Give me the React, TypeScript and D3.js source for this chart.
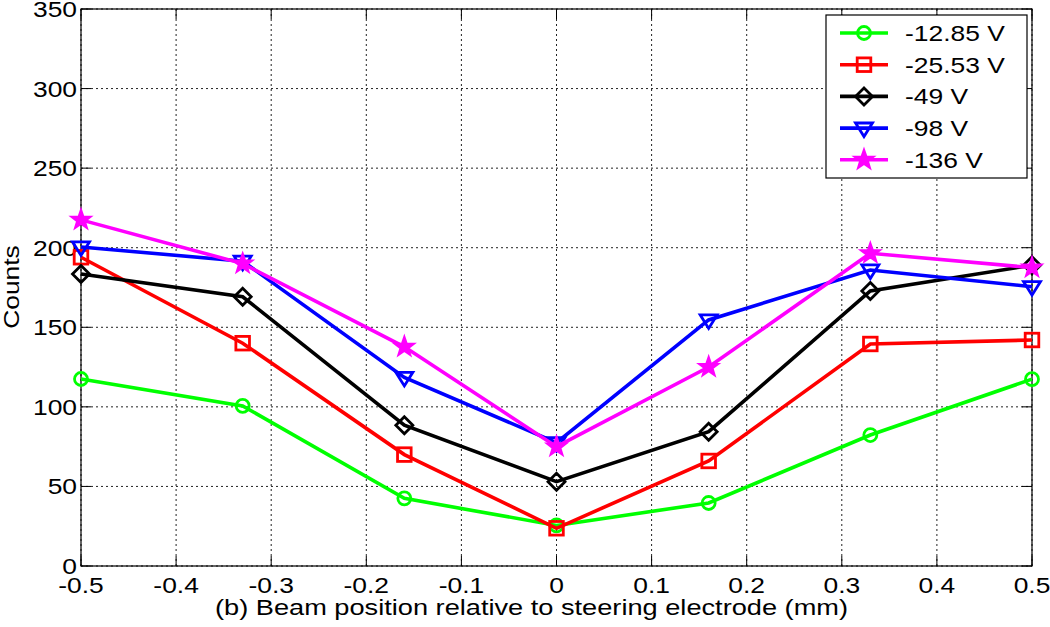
import React from "react";
import * as d3 from "d3";

const xPositions = [-0.5, -0.33, -0.16, 0, 0.16, 0.33, 0.5];
const seriesNames = ["-12.85 V", "-25.53 V", "-49 V", "-98 V", "-136 V"];
const seriesColors = ["#00ff00", "#ff0000", "#000000", "#0000ff", "#ff00ff"];
const seriesMarkers = ["circle", "square", "diamond", "triangleDown", "star"];
const green = [117.5, 100.6, 42.5, 25.5, 39.6, 82.3, 117.4];
const red = [194, 140, 70, 23.7, 66, 139.5, 142];
const black = [183.5, 169.2, 88.5, 53, 84.4, 172.8, 189];
const blue = [200.5, 191.5, 118.5, 77.5, 154.6, 186, 175.5];
const magenta = [217.5, 190, 137.7, 75, 125, 196.5, 187.5];
const seriesValues = [green, red, black, blue, magenta];
const xTicks = [-0.5, -0.4, -0.3, -0.2, -0.1, 0, 0.1, 0.2, 0.3, 0.4, 0.5];
const yTicks = [0, 50, 100, 150, 200, 250, 300, 350];
const xLabel = "(b) Beam position relative to steering electrode (mm)";
const yLabel = "Counts";

const W = 1050;
const H = 627;
const L = 81, R = 1032, T = 9, B = 566;
const FONT = "'Liberation Sans', Arial, Helvetica, sans-serif";
const FS = 22;
const SX = 1.2;

function Txt({ x, y, anchor = "start", children, rotate = 0 }: any) {
  return (
    <text
      transform={`translate(${x},${y}) rotate(${rotate}) scale(${SX},1)`}
      textAnchor={anchor}
      fontFamily={FONT}
      fontSize={FS}
      fill="#000"
    >
      {children}
    </text>
  );
}

function Marker({ type, x, y, color }: { type: string; x: number; y: number; color: string }) {
  const sw = 2.8;
  if (type === "circle") return <circle cx={x} cy={y} r={6.5} fill="none" stroke={color} strokeWidth={sw} />;
  if (type === "square") return <rect x={x - 6.8} y={y - 6.8} width={13.6} height={13.6} fill="none" stroke={color} strokeWidth={sw} />;
  if (type === "diamond") {
    const s = 8.5;
    return <path d={`M${x},${y - s}L${x + s},${y}L${x},${y + s}L${x - s},${y}Z`} fill="none" stroke={color} strokeWidth={sw} />;
  }
  if (type === "triangleDown") {
    const s = 8.5;
    return <path d={`M${x - s},${y - s * 0.6}L${x + s},${y - s * 0.6}L${x},${y + s}Z`} fill="none" stroke={color} strokeWidth={sw} />;
  }
  const pts: string[] = [];
  const ro = 10.5, ri = 4.2;
  for (let i = 0; i < 10; i++) {
    const r = i % 2 === 0 ? ro : ri;
    const a = -Math.PI / 2 + (i * Math.PI) / 5;
    pts.push(`${x + r * Math.cos(a)},${y + r * Math.sin(a)}`);
  }
  return <path d={`M${pts.join("L")}Z`} fill={color} stroke={color} strokeWidth={1.8} strokeLinejoin="miter" />;
}

export default function App() {
  const x = d3.scaleLinear().domain([-0.5, 0.5]).range([L, R]);
  const y = d3.scaleLinear().domain([0, 350]).range([B, T]);
  const line = d3
    .line<number>()
    .x((_, i) => x(xPositions[i]))
    .y((d) => y(d));

  const legendX = 826, legendY = 15, legendW = 201, legendH = 163;
  const rowY0 = 33, rowStep = 31.7;

  return (
    <svg width={W} height={H} style={{ position: "absolute", left: 0, top: 0, background: "#fff" }}>
      <rect x={0} y={0} width={W} height={H} fill="#fff" />
      {xTicks.map((t) => (
        <line key={"gx" + t} x1={x(t)} x2={x(t)} y1={T} y2={B} stroke="#222" strokeWidth={1} strokeDasharray="2,3" />
      ))}
      {yTicks.map((t) => (
        <line key={"gy" + t} x1={L} x2={R} y1={y(t)} y2={y(t)} stroke="#222" strokeWidth={1} strokeDasharray="2,3" />
      ))}
      {xTicks.map((t) => (
        <g key={"tx" + t}>
          <line x1={x(t)} x2={x(t)} y1={B} y2={B - 10} stroke="#000" strokeWidth={1} />
          <line x1={x(t)} x2={x(t)} y1={T} y2={T + 10} stroke="#000" strokeWidth={1} />
        </g>
      ))}
      {yTicks.map((t) => (
        <g key={"ty" + t}>
          <line x1={L} x2={L + 10} y1={y(t)} y2={y(t)} stroke="#000" strokeWidth={1} />
          <line x1={R} x2={R - 10} y1={y(t)} y2={y(t)} stroke="#000" strokeWidth={1} />
        </g>
      ))}
      <rect x={L} y={T} width={R - L} height={B - T} fill="none" stroke="#000" strokeWidth={1.2} />
      {xTicks.map((t) => (
        <Txt key={"lx" + t} x={x(t)} y={593} anchor="middle">
          {t === 0 ? "0" : String(t)}
        </Txt>
      ))}
      {yTicks.map((t) => (
        <Txt key={"ly" + t} x={77} y={y(t) + 8} anchor="end">
          {String(t)}
        </Txt>
      ))}
      <text
        x={531.5}
        y={615}
        textAnchor="middle"
        fontFamily={FONT}
        fontSize={FS}
        textLength={633}
        lengthAdjust="spacingAndGlyphs"
      >
        {xLabel}
      </text>
      <Txt x={19} y={287} anchor="middle" rotate={-90}>
        {yLabel}
      </Txt>
      {seriesValues.map((vals, si) => (
        <g key={"s" + si}>
          <path d={line(vals) || ""} fill="none" stroke={seriesColors[si]} strokeWidth={3.6} strokeLinejoin="miter" />
          {vals.map((v, i) => (
            <Marker key={i} type={seriesMarkers[si]} x={x(xPositions[i])} y={y(v)} color={seriesColors[si]} />
          ))}
        </g>
      ))}
      <rect x={legendX} y={legendY} width={legendW} height={legendH} fill="#fff" stroke="#000" strokeWidth={1.2} />
      {seriesNames.map((n, si) => {
        const ry = rowY0 + si * rowStep;
        return (
          <g key={"lg" + si}>
            <line x1={840} x2={888} y1={ry} y2={ry} stroke={seriesColors[si]} strokeWidth={3.6} />
            <Marker type={seriesMarkers[si]} x={864} y={ry} color={seriesColors[si]} />
            <Txt x={905} y={ry + 8}>{n}</Txt>
          </g>
        );
      })}
    </svg>
  );
}
